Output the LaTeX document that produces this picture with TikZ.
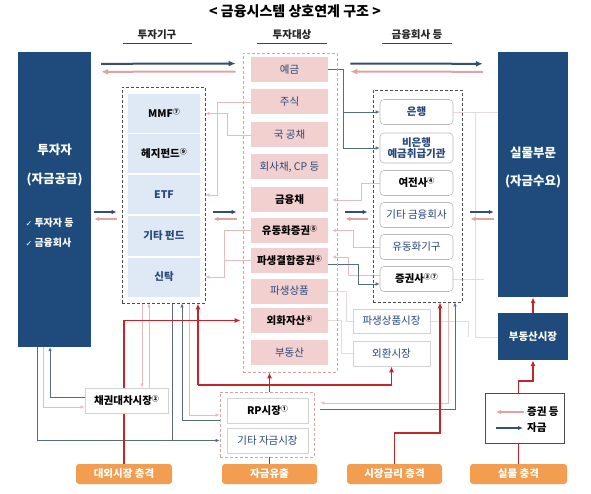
\documentclass[tikz,border=0pt]{standalone}
\usepackage{fontspec}
\setmainfont{Noto Sans CJK KR}
\newfontfamily\dvfont{DejaVu Sans}
\usetikzlibrary{arrows.meta,calc,backgrounds}
\definecolor{navy}{HTML}{1E4A7C}
\definecolor{tnavy}{HTML}{27477A}
\definecolor{dline}{HTML}{34506F}
\definecolor{tdline}{HTML}{566B86}
\definecolor{pline}{HTML}{DFA3A3}
\definecolor{tpline}{HTML}{E6BDBD}
\definecolor{pinkfill}{HTML}{F3D0D0}
\definecolor{lblue}{HTML}{DFE8F5}
\definecolor{redc}{HTML}{C8232B}
\definecolor{orng}{HTML}{F39D50}
\definecolor{faint}{HTML}{E8DADA}
\definecolor{pdash}{HTML}{D5A3A3}
\newcommand\supn[1]{\raisebox{3pt}{\fontsize{7}{7}\selectfont #1}}
\begin{document}
\begin{tikzpicture}[x=1pt,y=-1pt,
  navybox/.style={fill=navy, inner sep=0pt},
  wtext/.style={text=white, font=\bfseries\fontsize{12.5}{14}\selectfont},
  bluebox/.style={fill=lblue, minimum width=72pt, minimum height=39pt, inner sep=0pt, font=\bfseries\fontsize{10.5}{12}\selectfont},
  pinkbox/.style={fill=pinkfill, minimum width=77pt, minimum height=25pt, inner sep=0pt, font=\fontsize{10.5}{12}\selectfont, text=tnavy},
  pinkb/.style={pinkbox, text=black, font=\bfseries\fontsize{10.5}{12}\selectfont},
  rbox/.style={draw=gray!55, fill=white, rounded corners=4pt, minimum width=73pt, minimum height=25pt, inner sep=0pt, font=\fontsize{10.5}{12}\selectfont, text=tnavy, line width=0.6pt, align=center},
  wbox/.style={draw=gray!35, fill=white, inner sep=0pt, line width=0.8pt, font=\fontsize{10.5}{12}\selectfont, text=tnavy},
  obox/.style={fill=orng, text=white, rounded corners=3pt, minimum height=20pt, inner sep=0pt, font=\bfseries\fontsize{10.5}{12}\selectfont},
  dbox/.style={draw=black!70, dashed, dash pattern=on 3pt off 2pt, line width=0.8pt, inner sep=0pt},
  pdbox/.style={draw=pdash, dashed, dash pattern=on 3pt off 2pt, line width=0.8pt, inner sep=0pt},
  bigf/.style={draw=dline, line width=2pt, -{Latex[length=7pt,width=6pt]}},
  bigp/.style={draw=pline, line width=2pt, -{Latex[length=7pt,width=6pt]}},
  midf/.style={draw=dline, line width=1.4pt, -{Latex[length=5pt,width=4.5pt]}},
  midp/.style={draw=pline, line width=1.4pt, -{Latex[length=5pt,width=4.5pt]}},
  thf/.style={draw=tdline, line width=0.7pt, -{Latex[length=4pt,width=3.5pt]}},
  thp/.style={draw=tpline, line width=0.7pt, -{Latex[length=4pt,width=3.5pt]}},
  thfl/.style={draw=tdline, line width=0.7pt},
  thpl/.style={draw=tpline, line width=0.7pt},
  fnt/.style={draw=faint, line width=0.7pt},
  redl/.style={draw=redc, line width=1.8pt, -{Latex[length=6pt,width=5pt]}},
  redn/.style={draw=redc, line width=1.8pt},
  hdr/.style={font=\bfseries\fontsize{10.5}{12}\selectfont, text=black!85},
  uline/.style={draw=navy, line width=1.5pt}
]
\useasboundingbox (0,0) rectangle (591,494);
\begin{scope}[on background layer]
\fill[white] (0,0) rectangle (591,494);
\end{scope}

% title and headers
\node[font=\bfseries\fontsize{14}{16}\selectfont] (title) at (295,11) {< 금융시스템 상호연계 구조 >};
\node[hdr] (h1) at (157,35) {투자기구};
\node[hdr] (h2) at (292,35) {투자대상};
\node[hdr] (h3) at (417,35) {금융회사 등};
\draw[uline] ($(h1.south)+(-34.5,0)$) -- ($(h1.south)+(34.5,0)$);
\draw[uline] ($(h2.south)+(-35,0)$) -- ($(h2.south)+(35,0)$);
\draw[uline] ($(h3.south)+(-35,0)$) -- ($(h3.south)+(35,0)$);

% big boxes
\node[navybox, minimum width=73pt, minimum height=295pt] (inv) at (54.5,199.5) {};
\node[wtext] (invt1) at (54.5,150) {투자자};
\node[wtext] (invt2) at (54.5,180) {(자금공급)};
\node[text=white, font=\bfseries\fontsize{10}{11}\selectfont, anchor=west] (invt3) at (22,223) {{\dvfont\fontsize{8}{9}\selectfont ✓} 투자자 등};
\node[text=white, font=\bfseries\fontsize{10}{11}\selectfont, anchor=west] (invt4) at (22,243) {{\dvfont\fontsize{8}{9}\selectfont ✓} 금융회사};

\node[navybox, minimum width=70pt, minimum height=245pt] (real) at (533,174.5) {};
\node[wtext] (realt1) at (533,153) {실물부문};
\node[wtext] (realt2) at (533,182) {(자금수요)};
\node[navybox, minimum width=70pt, minimum height=47pt, text=white, font=\bfseries\fontsize{10.5}{12}\selectfont] (rem) at (533,336.5) {부동산시장};

% investment vehicles
\node[dbox, minimum width=83pt, minimum height=216pt] (vb) at (163.5,195) {};
\node[bluebox] (mmf) at (164,113.5) {MMF\supn{⑦}};
\node[bluebox] (hedge) at (164,154) {헤지펀드\supn{⑨}};
\node[bluebox, text=tnavy] (etf) at (164,195) {ETF};
\node[bluebox, text=tnavy] (ofund) at (164,236) {기타 펀드};
\node[bluebox, text=tnavy] (trust) at (164,277) {신탁};

% investment targets
\node[pdbox, minimum width=94pt, minimum height=319pt] (mb) at (290,212.5) {};
\node[pinkbox] (dep) at (289.5,69.5) {예금};
\node[pinkbox] (stk) at (289.5,102) {주식};
\node[pinkbox] (gov) at (289.5,135) {국 공채};
\node[pinkbox] (corp) at (289.5,167) {회사채, CP 등};
\node[pinkb] (fin) at (289.5,200) {금융채};
\node[pinkb] (abs) at (289.5,230.5) {유동화증권\supn{⑤}};
\node[pinkb] (dls) at (289.5,260.5) {파생결합증권\supn{⑥}};
\node[pinkbox] (drv) at (289.5,291) {파생상품};
\node[pinkb] (fx) at (289.5,320.5) {외화자산\supn{⑧}};
\node[pinkbox] (re) at (289.5,352.5) {부동산};

% financial companies
\node[dbox, minimum width=89pt, minimum height=212pt] (fb) at (417.5,196) {};
\node[rbox, font=\bfseries\fontsize{10.5}{12}\selectfont] (bank) at (416.5,112) {은행};
\node[rbox, minimum height=30pt, font=\bfseries\fontsize{10.5}{11.5}\selectfont] (nb) at (416.5,148) {비은행\\예금취급기관};
\node[rbox, text=black, font=\bfseries\fontsize{10.5}{12}\selectfont] (ys) at (416.5,183) {여전사\supn{④}};
\node[rbox] (oth) at (416.5,215) {기타 금융회사};
\node[rbox] (spv) at (416.5,247) {유동화기구};
\node[rbox, text=black, font=\bfseries\fontsize{10.5}{12}\selectfont] (sec) at (416.5,279) {증권사\supn{③⑦}};

% markets
\node[wbox, minimum width=77pt, minimum height=24pt] (dm) at (391.5,321) {파생상품시장};
\node[wbox, minimum width=77pt, minimum height=25pt] (fxm) at (391.5,353.5) {외환시장};
\node[wbox, minimum width=83pt, minimum height=25pt, text=black, font=\bfseries\fontsize{10.5}{12}\selectfont] (bl) at (126.5,400.5) {채권대차시장\supn{②}};
\node[pdbox, fill=white, minimum width=94pt, minimum height=65pt] (rpb) at (267,424.5) {};
\node[wbox, minimum width=81pt, minimum height=25pt, text=black, font=\bfseries\fontsize{10.5}{12}\selectfont] (rp) at (267.5,410.5) {RP시장\supn{①}};
\node[wbox, minimum width=81pt, minimum height=25pt] (ot) at (267.5,440.5) {기타 자금시장};

% shocks
\node[obox, minimum width=96pt] (ext) at (124,474) {대외시장 충격};
\node[obox, minimum width=95pt] (out) at (269.5,474) {자금유출};
\node[obox, minimum width=95pt] (rate) at (394.5,474) {시장금리 충격};
\node[obox, minimum width=97pt] (shock) at (518.5,474) {실물 충격};

% legend
\node[draw=black!70, fill=white, line width=0.8pt, minimum width=79pt, minimum height=50pt, inner sep=0pt] (lg) at (524.5,418) {};
\node[font=\bfseries\fontsize{10.5}{12}\selectfont, anchor=west, inner sep=1pt] (lgt1) at (526,412) {증권 등};
\node[font=\bfseries\fontsize{10.5}{12}\selectfont, anchor=west, inner sep=1pt] (lgt2) at (526,428) {자금};
\draw[midp] ($(lgt1.west)+(-2,0)$) -- ++(-28,0);
\draw[midf] ($(lgt2.west)+(-30,0)$) -- ++(27,0);

\coordinate (ya) at (0,212);
\coordinate (yb) at (0,219);
\coordinate (dj) at (343,112);

% main arrows
\draw[bigf] ($(inv.north east)+(10,12)$) -- ($(mb.north west)+(-7,11)$);
\draw[bigp] ($(mb.north west)+(-7,19)$) -- ($(inv.north east)+(10,20)$);
\draw[bigf] ($(mb.north east)+(13,11)$) -- ($(real.north west)+(-15,12)$);
\draw[bigp] ($(real.north west)+(-15,20)$) -- ($(mb.north east)+(13,19)$);

\draw[midf] ($(inv.east|-ya)+(3,0)$) -- ($(vb.west|-ya)+(-5,0)$);
\draw[midp] ($(vb.west|-yb)+(-5,0)$) -- ($(inv.east|-yb)+(3,0)$);
\draw[midf] ($(vb.east|-ya)+(8,0)$) -- ($(mb.west|-ya)+(-6,0)$);
\draw[midp] ($(mb.west|-yb)+(-6,0)$) -- ($(vb.east|-yb)+(8,0)$);
\draw[midf] ($(mb.east|-ya)+(8,0)$) -- ($(fb.west|-ya)+(-5,0)$);
\draw[midp] ($(fb.west|-yb)+(-5,0)$) -- ($(mb.east|-yb)+(8,0)$);
\draw[midf] ($(fb.east|-ya)+(8,0)$) -- ($(real.west|-ya)+(-4,0)$);
\draw[midp] ($(real.west|-yb)+(-4,0)$) -- ($(fb.east|-yb)+(8,0)$);

\begin{scope}[on background layer]
% faint lines
\draw[fnt] (bank.east) -- (real.west|-bank.east);
\draw[fnt] (475,112) -- (475,337) -- (rem.west|-0,337);
\draw[fnt] (sec.east) -- (484,279);
\draw[fnt] (drv.east) -- (346,291) -- (346,321) -- (dm.west);
\draw[fnt] (fx.east) -- (341,320.5) -- (341,353.5) -- (fxm.west);
\draw[fnt] (dm.east) -- (468,321) -- (468,337);

% targets -> vehicles
\draw[thp] (stk.west) -- (217,102) -- (217,195) -- (vb.east|-etf.east);
\draw[thp] (gov.west) -- (227,135) -- (227,113.5) -- (vb.east|-mmf.east);
\draw[thp] (abs.west) -- (224,230.5) -- (224,277) -- (vb.east|-trust.east);
\draw[thpl] (dls.west) -- (224,260.5);

% companies -> targets
\draw[thp] (ys.west) -- (361,183) -- (361,200) -- ($(fin.east)+(4,0)$);
\draw[thp] (spv.west) -- (353,247) -- (353,230.5) -- ($(abs.east)+(4,0)$);
\draw[thp] ($(sec.west)+(0,-4)$) -- (348,275) -- (348,257) -- ($(dls.east)+(4,-3.5)$);
\draw[thf] ($(dls.east)+(0,4)$) -- (358,264.5) -- (358,284) -- ($(sec.west)+(0,5)$);
\draw[thf] (dep.east) -- (343,69.5) -- (343,148) -- (nb.west);
\draw[thf] (dj) -- (bank.west);

% investor / lending market
\draw[thf] ($(bl.west)+(0,-3)$) -- (50,397.5) -- (50,0|-inv.south);
\draw[thp] (43,0|-inv.south) -- (43,407) -- ($(bl.west)+(0,6.5)$);
\draw[thf] (37,0|-inv.south) -- (37,440.5) -- (rpb.west|-ot.west);
\draw[thfl] (172,0|-vb.south) -- (172,440.5);
\draw[thp] (142,0|-vb.south) -- (142,0|-bl.north);
\draw[thp] (149,0|-bl.north) -- (149,0|-vb.south);
\draw[thf] (rpb.west|-0,420) -- (182,420) -- (182,0|-vb.south);
\draw[thp] (189,0|-vb.south) -- (189,415) -- (rpb.west|-0,415);

% RP <-> securities firms
\draw[thf] ($(rpb.east|-0,409)+(6,0)$) -- (455,409) -- (455,0|-fb.south);
\draw[thp] (448,0|-fb.south) -- (448,403) -- ($(rpb.east|-0,403)+(6,0)$);

% red shock lines
\draw[redl] (ext.north) -- (124,320.5) -- ($(mb.west|-fx.west)+(-2,0)$);
\draw[redl] (out.north) -- (out.north|-mb.south);
\draw[redn] (198,385) -- (391.5,385);
\draw[redl] (198,385) -- (198,0|-vb.south);
\draw[redl] (391.5,385) -- (fxm.south);
\draw[redl] (rate.north) -- (394.5,433) -- (440,433) -- (440,0|-fb.south);
\draw[redl] (shock.north) -- (518.5,381) -- (533,381) -- (rem.south);
\draw[redl] (rem.north) -- (real.south);
\end{scope}
\end{tikzpicture}
\end{document}
